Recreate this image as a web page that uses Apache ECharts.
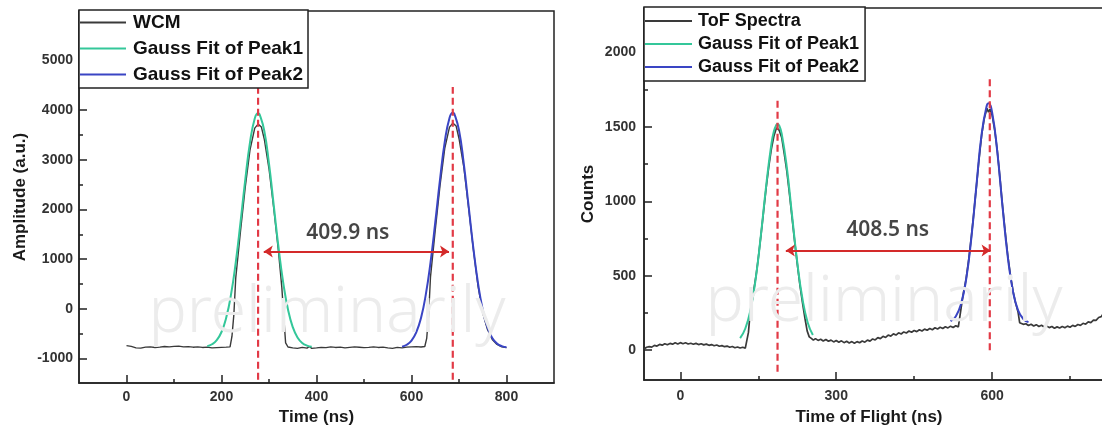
<!DOCTYPE html>
<html>
<head>
<meta charset="utf-8">
<script src="https://cdn.jsdelivr.net/npm/echarts@6/dist/echarts.min.js"></script>
<style>
  html, body { margin: 0; padding: 0; background: #ffffff; overflow: hidden; }
  /* the right-hand frame runs past the page edge, so the canvas is wider than the view */
  #chart { width: 1148px; height: 431px; }
</style>
</head>
<body>
<div id="chart"></div>
<script>
// ---------- Left panel: wall current monitor signal ----------
const wcmSignal = [
  [0,-745],[10,-760],[20,-790],[30,-795],[40,-775],[50,-770],[60,-782],[70,-774],[80,-762],[90,-770],
  [100,-760],[110,-755],[120,-770],[130,-764],[140,-776],[150,-770],[160,-781],[170,-774],[180,-790],[190,-784],
  [200,-779],[210,-775],[218,-770],[222,-560],[226,-120],[230,620],[240,1560],[250,2450],[260,3200],[270,3640],
  [277,3720],[284,3660],[290,3420],[300,2820],[310,2020],[320,1150],[327,430],[331,-150],[335,-690],[340,-772],
  [350,-790],[360,-800],[370,-781],[380,-795],[385,-762],[390,-800],[400,-790],[410,-779],[420,-786],[430,-770],
  [440,-781],[450,-774],[460,-790],[470,-779],[480,-770],[490,-776],[500,-786],[510,-779],[520,-769],[530,-781],
  [540,-774],[550,-791],[560,-800],[570,-781],[580,-790],[590,-775],[600,-770],[610,-765],[620,-771],[628,-762],
  [632,-600],[636,-130],[640,640],[650,1580],[660,2480],[670,3230],[680,3660],[687,3740],[694,3680],[700,3430],
  [710,2860],[720,2050],[730,1210],[740,460],[750,-90],[760,-420],[770,-620],[780,-720],[790,-770],[800,-785]
];
const wcmFitPeak1 = [
  [170,-755],[180,-717],[190,-634],[200,-470],[210,-179],[220,282],[230,932],[240,1738],[250,2598],[260,3353],
  [270,3835],[277,3940],[280,3921],[290,3587],[300,2922],[310,2083],[320,1239],[330,520],[340,-17],[350,-371],
  [360,-580],[370,-691],[380,-744],[390,-767]
];
const wcmFitPeak2 = [
  [580,-765],[590,-727],[600,-643],[610,-479],[620,-187],[630,277],[640,929],[650,1738],[660,2602],[670,3361],
  [680,3845],[687,3950],[690,3931],[700,3596],[710,2928],[720,2085],[730,1238],[740,515],[750,-24],[760,-380],
  [770,-590],[780,-700],[790,-754],[800,-777]
];
const wcmPeakCentres = [277.0, 686.9];      // ns
const wcmMarkerSpan = [-1430, 4470];        // vertical extent of the centre markers
const wcmArrow = { from: 289, to: 679, level: 1150 };
const wcmLabelAt = [466, 1530];

// ---------- Right panel: time-of-flight spectrum ----------
const tofSpectrum = [
  [-70,8],[-65,20],[-60,24],[-55,21],[-50,33],[-45,28],[-40,39],[-35,34],[-30,44],[-25,37],
  [-20,46],[-15,41],[-10,50],[-5,42],[0,51],[5,44],[10,50],[15,42],[20,47],[25,40],
  [30,46],[35,38],[40,44],[45,36],[50,41],[55,33],[60,38],[65,30],[70,35],[75,27],
  [80,31],[85,24],[90,28],[95,20],[100,25],[105,17],[110,22],[115,15],[120,20],[125,14],
  [128,22],[131,120],[134,240],[138,330],[142,420],[146,510],[150,620],[155,770],[160,930],[165,1090],
  [170,1230],[175,1350],[180,1440],[185,1495],[190,1480],[195,1430],[200,1320],[205,1200],[210,1050],[215,890],
  [220,730],[225,580],[230,440],[235,320],[240,210],[244,130],[248,90],[252,80],[256,68],[260,78],
  [265,66],[270,74],[275,62],[280,72],[285,60],[290,68],[295,56],[300,65],[305,54],[310,63],
  [315,51],[320,60],[325,49],[330,58],[335,47],[340,58],[345,50],[350,62],[355,54],[360,68],
  [365,61],[370,76],[375,69],[380,85],[385,78],[390,94],[395,86],[400,102],[405,95],[410,110],
  [415,102],[420,117],[425,109],[430,123],[435,116],[440,129],[445,121],[450,133],[455,125],[460,138],
  [465,129],[470,142],[475,134],[480,146],[485,138],[490,151],[495,143],[500,154],[505,146],[510,158],
  [515,150],[520,162],[525,153],[530,165],[535,157],[538,168],[541,300],[545,390],[550,480],[555,610],
  [560,760],[565,930],[570,1110],[575,1290],[580,1450],[585,1560],[590,1625],[593,1600],[596,1620],[600,1580],
  [605,1480],[610,1340],[615,1160],[620,970],[625,800],[630,640],[635,510],[640,400],[645,320],[650,255],
  [653,185],[656,176],[660,174],[665,178],[670,166],[675,175],[680,163],[685,172],[690,160],[695,168],
  [700,156],[705,164],[710,152],[715,160],[720,148],[725,157],[730,149],[735,159],[740,151],[745,162],
  [750,155],[755,167],[760,160],[765,173],[770,167],[775,181],[780,175],[785,191],[790,186],[795,203],
  [800,201],[805,220],[810,226],[815,252]
];
const tofFitPeak1 = [
  [115,82],[125,146],[135,272],[145,481],[155,773],[165,1102],[175,1381],[180,1471],[185,1516],[187,1520],
  [190,1511],[195,1456],[205,1225],[215,904],[225,590],[235,345],[245,187],[255,102]
];
const tofFitPeak2 = [
  [520,195],[530,227],[540,309],[550,477],[560,755],[570,1115],[580,1458],[590,1648],[593,1660],[600,1598],
  [610,1332],[620,966],[630,631],[640,398],[650,268],[660,210],[670,189]
];
const tofPeakCentres = [187.0, 595.5];      // ns
const tofMarkerSpans = [[-145, 1697], [0, 1842]];
const tofArrow = { from: 203, to: 597, level: 670 };
const tofLabelAt = [399, 810];

// ---------- Axis ticks ----------
const wcmTimeTicks = [0, 200, 400, 600, 800];
const wcmTimeMinor = [100, 300, 500, 700];
const wcmAmpTicks = [-1000, 0, 1000, 2000, 3000, 4000, 5000];
const wcmAmpMinor = [-500, 500, 1500, 2500, 3500, 4500, 5500];
const tofTimeTicks = [0, 300, 600];
const tofTimeMinor = [150, 450, 750];
const tofCountTicks = [0, 500, 1000, 1500, 2000];
const tofCountMinor = [250, 750, 1250, 1750, 2250];

const legendLeft = ['WCM', 'Gauss Fit of Peak1', 'Gauss Fit of Peak2'];
const legendRight = ['ToF Spectra', 'Gauss Fit of Peak1 ', 'Gauss Fit of Peak2 '];

// ---------- Styling ----------
const INK = '#222222';
const TRACE = '#3a3a3a';
const GREEN = '#34c79a';
const BLUE = '#3a45c4';
const DASH_RED = '#e23a46';
const ARROW_RED = '#d42a2a';
const FONT = '"Liberation Sans", Arial, sans-serif';

function majorAxis(opt) {
  return Object.assign({
    type: 'value',
    splitLine: { show: false },
    axisLine: { show: true, onZero: false, lineStyle: { color: INK, width: 1.5 } },
    axisTick: { show: true, inside: true, length: 8, customValues: opt.ticks, lineStyle: { color: INK, width: 1.5 } },
    axisLabel: {
      show: true, customValues: opt.ticks, margin: opt.margin,
      formatter: function (v) { return String(v); },
      color: '#333', fontFamily: FONT, fontWeight: 'bold', fontSize: 14
    },
    nameLocation: 'middle',
    nameTextStyle: Object.assign({ color: '#1a1a1a', fontFamily: FONT, fontWeight: 'bold', fontSize: 17 }, opt.nameStyle || {})
  }, opt.extra);
}
function minorAxis(opt) {
  return Object.assign({
    type: 'value',
    splitLine: { show: false },
    axisLine: { show: false, onZero: false },
    axisLabel: { show: false },
    axisTick: { show: true, inside: true, length: 4, customValues: opt.ticks, lineStyle: { color: INK, width: 1.5 } }
  }, opt.extra);
}

function lineSeries(name, data, color, width, xi, smooth, z) {
  return {
    type: 'line', name, data, xAxisIndex: xi, yAxisIndex: xi,
    showSymbol: false, symbol: 'none', smooth: smooth, z: z,
    lineStyle: { color, width }, itemStyle: { color },
    emphasis: { disabled: true }, silent: true
  };
}
function markerSeries(x, span, xi) {
  return {
    type: 'line', data: [[x, span[0]], [x, span[1]]], xAxisIndex: xi, yAxisIndex: xi,
    showSymbol: false, symbol: 'none', z: 6, silent: true,
    lineStyle: { color: DASH_RED, width: 2.2, type: [7, 4] }
  };
}
function arrowSeries(a, xi) {
  return {
    type: 'lines', coordinateSystem: 'cartesian2d', xAxisIndex: xi, yAxisIndex: xi,
    symbol: ['arrow', 'arrow'], symbolSize: 9, z: 7, silent: true,
    lineStyle: { color: ARROW_RED, width: 2, opacity: 1 },
    data: [{ coords: [[a.from, a.level], [a.to, a.level]] }]
  };
}
function labelSeries(pos, text, xi) {
  return {
    type: 'scatter', xAxisIndex: xi, yAxisIndex: xi, data: [pos], symbolSize: 1, z: 8, silent: true,
    itemStyle: { color: 'rgba(0,0,0,0)' },
    label: {
      show: true, position: 'inside', formatter: text,
      color: '#161616', fontFamily: '"Noto Sans", sans-serif', fontWeight: 600, fontSize: 21
    }
  };
}

const wcmGap = (wcmPeakCentres[1] - wcmPeakCentres[0]).toFixed(1) + ' ns';
const tofGap = (tofPeakCentres[1] - tofPeakCentres[0]).toFixed(1) + ' ns';

const legendText = { color: '#111', fontFamily: FONT, fontWeight: 'bold' };

const option = {
  animation: false,
  backgroundColor: '#ffffff',
  grid: [
    { left: 79, width: 475, top: 11, bottom: 47, show: true, borderColor: INK, borderWidth: 1.5, backgroundColor: 'transparent' },
    { left: 644, width: 504, top: 8, bottom: 51, show: true, borderColor: INK, borderWidth: 1.5, backgroundColor: 'transparent' }
  ],
  xAxis: [
    majorAxis({ ticks: wcmTimeTicks, margin: 7, extra: { gridIndex: 0, min: -100, max: 900, position: 'bottom', name: 'Time (ns)', nameGap: 25 } }),
    minorAxis({ ticks: wcmTimeMinor, extra: { gridIndex: 0, min: -100, max: 900, position: 'bottom' } }),
    majorAxis({ ticks: tofTimeTicks, margin: 9, nameStyle: { padding: [0, 54, 0, 0] },
      extra: { gridIndex: 1, min: -70, max: 900, position: 'bottom', name: 'Time of Flight (ns)', nameGap: 29 } }),
    minorAxis({ ticks: tofTimeMinor, extra: { gridIndex: 1, min: -70, max: 900, position: 'bottom' } })
  ],
  yAxis: [
    majorAxis({ ticks: wcmAmpTicks, margin: 6, extra: { gridIndex: 0, min: -1500, max: 6000, position: 'left', name: 'Amplitude (a.u.)', nameGap: 50 } }),
    minorAxis({ ticks: wcmAmpMinor, extra: { gridIndex: 0, min: -1500, max: 6000, position: 'left' } }),
    majorAxis({ ticks: tofCountTicks, margin: 8, extra: { gridIndex: 1, min: -200, max: 2300, position: 'left', name: 'Counts', nameGap: 47 } }),
    minorAxis({ ticks: tofCountMinor, extra: { gridIndex: 1, min: -200, max: 2300, position: 'left' } })
  ],
  legend: [
    {
      data: legendLeft, orient: 'vertical', left: 79, top: 10,
      icon: 'rect', itemWidth: 46, itemHeight: 2, itemGap: 7,
      padding: [3, 5, 4, 1],
      backgroundColor: '#ffffff', borderColor: INK, borderWidth: 1.5, borderRadius: 0,
      textStyle: Object.assign({ fontSize: 19, padding: [0, 0, 0, 2] }, legendText),
      selectedMode: false, z: 20
    },
    {
      data: legendRight, orient: 'vertical', left: 644, top: 7,
      icon: 'rect', itemWidth: 47, itemHeight: 2, itemGap: 5,
      padding: [5, 6, 5, 1],
      backgroundColor: '#ffffff', borderColor: INK, borderWidth: 1.5, borderRadius: 0,
      textStyle: Object.assign({ fontSize: 18, padding: [0, 0, 0, 1] }, legendText),
      formatter: function (n) { return n.trim(); },
      selectedMode: false, z: 20
    }
  ],
  series: [
    lineSeries('WCM', wcmSignal, TRACE, 1.4, 0, false, 3),
    lineSeries('Gauss Fit of Peak1', wcmFitPeak1, GREEN, 2, 0, true, 4),
    lineSeries('Gauss Fit of Peak2', wcmFitPeak2, BLUE, 2, 0, true, 4),
    markerSeries(wcmPeakCentres[0], wcmMarkerSpan, 0),
    markerSeries(wcmPeakCentres[1], wcmMarkerSpan, 0),
    arrowSeries(wcmArrow, 0),
    labelSeries(wcmLabelAt, wcmGap, 0),

    lineSeries('ToF Spectra', tofSpectrum, TRACE, 1.7, 2, false, 3),
    lineSeries('Gauss Fit of Peak1 ', tofFitPeak1, GREEN, 2, 2, true, 4),
    lineSeries('Gauss Fit of Peak2 ', tofFitPeak2, BLUE, 2, 2, true, 4),
    markerSeries(tofPeakCentres[0], tofMarkerSpans[0], 2),
    markerSeries(tofPeakCentres[1], tofMarkerSpans[1], 2),
    arrowSeries(tofArrow, 2),
    labelSeries(tofLabelAt, tofGap, 2)
  ],
  graphic: [
    {
      type: 'text', x: 327, y: 314, z: 100, silent: true,
      style: { text: 'preliminarily', fill: '#ececec', font: '300 64px "Noto Sans", sans-serif', align: 'center', verticalAlign: 'middle' }
    },
    {
      type: 'text', x: 884, y: 303, z: 100, silent: true,
      style: { text: 'preliminarily', fill: '#ececec', font: '300 64px "Noto Sans", sans-serif', align: 'center', verticalAlign: 'middle' }
    }
  ]
};

const chart = echarts.init(document.getElementById('chart'), null, { renderer: 'canvas' });
chart.setOption(option);
</script>
</body>
</html>
